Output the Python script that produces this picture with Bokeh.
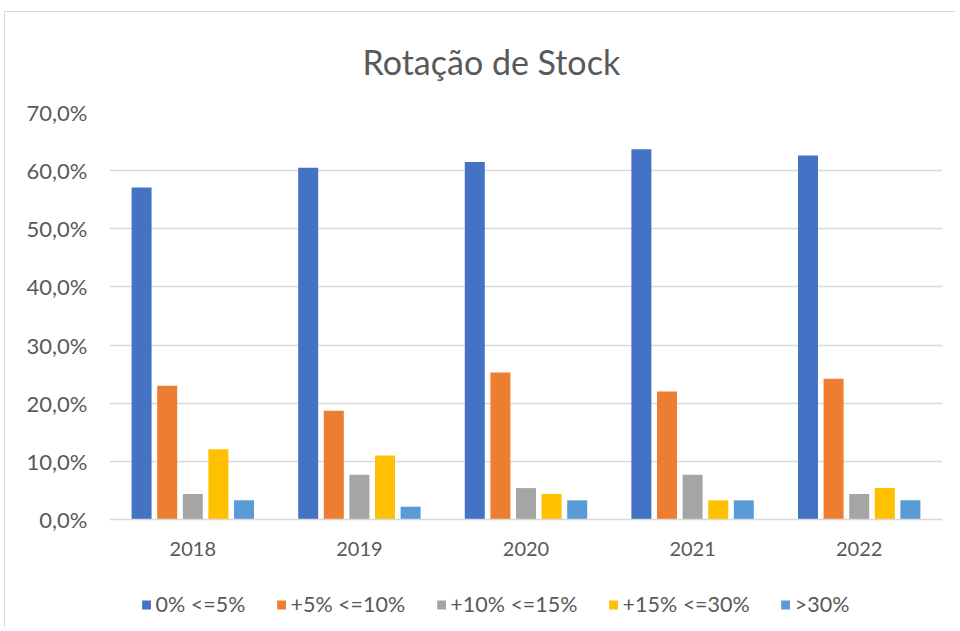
from bokeh.plotting import figure
from bokeh.layouts import column
from bokeh.models import (ColumnDataSource, FactorRange, Range1d, Legend, LegendItem,
                          FixedTicker, CustomJSTickFormatter)
from bokeh.transform import dodge
from bokeh.embed import file_html
from bokeh.resources import INLINE

years = ["2018", "2019", "2020", "2021", "2022"]
series_names = ["0% <=5%", "+5% <=10%", "+10% <=15%", "+15% <=30%", ">30%"]
s_0_5 = [57.1, 60.5, 61.5, 63.7, 62.6]
s_5_10 = [23.0, 18.7, 25.3, 22.0, 24.2]
s_10_15 = [4.4, 7.7, 5.4, 7.7, 4.4]
s_15_30 = [12.1, 11.0, 4.4, 3.3, 5.4]
s_30 = [3.3, 2.2, 3.3, 3.3, 3.3]
y_ticks = [0, 10, 20, 30, 40, 50, 60, 70]

colors = ["#4472C4", "#ED7D31", "#A5A5A5", "#FFC000", "#5B9BD5"]
keys = ["a", "b", "c", "d", "e"]
source = ColumnDataSource(dict(year=years, a=s_0_5, b=s_5_10, c=s_10_15, d=s_15_30, e=s_30))

FONT = "Lato"
TXT = "#595959"

p = figure(x_range=FactorRange(*years, range_padding=0), y_range=(0, 70),
           frame_width=833, frame_height=407,
           output_backend="svg", toolbar_location=None,
           min_border_left=104, min_border_right=13, min_border_top=98, min_border_bottom=50,
           title="Rotação de Stock")
p.title.text_font = FONT
p.title.text_font_size = "34px"
p.title.text_font_style = "normal"
p.title.text_color = TXT
p.title.align = "left"
p.title.offset = 253
p.title.standoff = 57
p.title.vertical_align = "top"
p.outline_line_color = None

step = 0.1537
offsets = [-2 * step, -step, 0, step, 2 * step]
for k, c, off in zip(keys, colors, offsets):
    p.vbar(x=dodge("year", off, range=p.x_range), top=k, width=0.12, bottom=0,
           source=source, fill_color=c, line_color=None)

p.yaxis.ticker = FixedTicker(ticks=y_ticks)
p.yaxis.formatter = CustomJSTickFormatter(code="return tick.toFixed(1).replace('.', ',') + '%';")
p.yaxis.axis_line_color = None
p.yaxis.major_tick_line_color = None
p.yaxis.minor_tick_line_color = None
p.yaxis.major_tick_out = 0
p.yaxis.major_label_text_font = FONT
p.yaxis.major_label_text_font_size = "22px"
p.yaxis.major_label_text_color = TXT
p.yaxis.major_label_standoff = 22

p.xaxis.axis_line_color = "#d9d9d9"
p.xaxis.axis_line_width = 1.5
p.xaxis.major_tick_line_color = None
p.xaxis.minor_tick_line_color = None
p.xaxis.major_label_text_font = FONT
p.xaxis.major_label_text_font_size = "20px"
p.xaxis.major_label_text_color = TXT
p.xaxis.major_label_standoff = 16

p.xgrid.grid_line_color = None
p.ygrid.grid_line_color = "#d9d9d9"
p.ygrid.grid_line_width = 1.5

# legend strip: a second figure whose zero-width bars draw nothing, holding only the legend
lg = figure(x_range=FactorRange(*years, range_padding=0), y_range=Range1d(0, 70),
            width=950, height=58, output_backend="svg", toolbar_location=None,
            min_border_left=0, min_border_right=74, min_border_top=12, min_border_bottom=0,
            x_axis_location=None, y_axis_location=None)
lg.outline_line_color = None
lg.xgrid.grid_line_color = None
lg.ygrid.grid_line_color = None
items = []
for k, c, off, name in zip(keys, colors, offsets, series_names):
    r = lg.vbar(x=dodge("year", off, range=lg.x_range), top=k, width=0, bottom=0,
                source=source, fill_color=c, line_color=None)
    items.append(LegendItem(label=name, renderers=[r]))
legend = Legend(items=items, orientation="horizontal", location="center",
                label_text_font=FONT, label_text_font_size="21.5px", label_text_color=TXT,
                glyph_width=11, glyph_height=11, label_standoff=4, spacing=30,
                border_line_color=None, background_fill_alpha=0, margin=0, padding=0)
lg.add_layout(legend)

layout = column(p, lg, spacing=0)
layout.styles = {"margin-left": "4px", "margin-top": "11px",
                 "border-left": "1px solid #d9d9d9", "border-top": "1px solid #d9d9d9"}

open("out.html", "w").write(file_html(layout, INLINE))
